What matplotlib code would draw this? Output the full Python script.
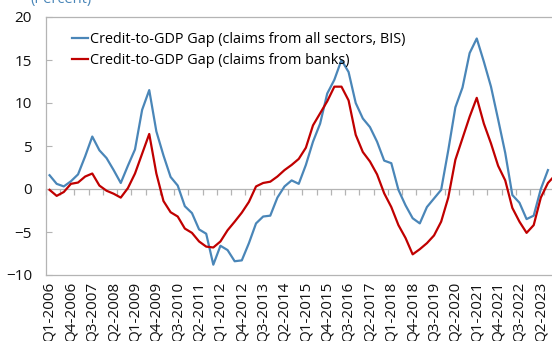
import numpy as np
import matplotlib
matplotlib.use("Agg")
import matplotlib.pyplot as plt

plt.rcParams['font.family'] = ['Open Sans', 'DejaVu Sans']

# Quarterly categories Q1-2006 ... Q4-2023
quarters = [f"Q{q}-{y}" for y in range(2006, 2024) for q in (1, 2, 3, 4)]

gap_all_sectors = [1.6, 0.6, 0.3, 0.9, 1.7, 3.8, 6.1, 4.5, 3.6, 2.2,
                   0.7, 2.7, 4.6, 9.2, 11.5, 6.7, 3.9, 1.4, 0.4, -2.0,
                   -2.8, -4.7, -5.2, -8.8, -6.6, -7.1, -8.4, -8.3, -6.3, -4.0,
                   -3.2, -3.1, -1.0, 0.3, 1.0, 0.6, 2.8, 5.5, 7.6, 11.1,
                   12.7, 15.0, 13.6, 10.0, 8.2, 7.2, 5.5, 3.3, 3.0, -0.1,
                   -1.9, -3.4, -4.0, -2.1, -1.1, -0.1, 4.5, 9.5, 11.8, 15.8,
                   17.5, 14.8, 11.9, 8.1, 4.2, -0.7, -1.6, -3.5, -3.1, 0.0,
                   2.2, np.nan]

gap_banks = [-0.1, -0.8, -0.35, 0.6, 0.75, 1.45, 1.8, 0.4, -0.2, -0.55,
             -1.0, 0.1, 1.8, 4.1, 6.4, 1.8, -1.4, -2.7, -3.2, -4.6,
             -5.1, -6.1, -6.7, -6.8, -6.1, -4.8, -3.8, -2.75, -1.5, 0.3,
             0.7, 0.85, 1.45, 2.2, 2.8, 3.5, 4.8, 7.4, 8.8, 10.2,
             11.9, 11.9, 10.3, 6.3, 4.3, 3.2, 1.7, -0.5, -2.1, -4.2,
             -5.7, -7.6, -7.0, -6.3, -5.4, -3.8, -1.0, 3.4, 5.9, 8.4,
             10.6, 7.6, 5.3, 2.7, 1.0, -2.2, -3.8, -5.1, -4.2, -1.0,
             0.7, 1.6]

series_labels = ["Credit-to-GDP Gap (claims from all sectors, BIS)",
                 "Credit-to-GDP Gap (claims from banks)"]
y_ticks = [-10, -5, 0, 5, 10, 15, 20]
label_step = 3

BLUE = '#4a86b8'
RED = '#c00000'
GRAY = '#b4b4b4'

W, H = 552, 341
fig = plt.figure(figsize=(W / 100, H / 100), dpi=100)
ax = fig.add_axes([46 / W, (H - 275) / H, (W - 46) / W, (275 - 17) / H])

x = np.arange(len(quarters))
ax.plot(x, gap_all_sectors, color=BLUE, lw=1.6, label=series_labels[0])
ax.plot(x, gap_banks, color=RED, lw=1.6, label=series_labels[1])

ax.set_xlim(-0.5, 70.57)
ax.set_ylim(-10, 20)

for s in ['top', 'left', 'bottom']:
    ax.spines[s].set_color(GRAY)
    ax.spines[s].set_linewidth(0.9)
ax.spines['right'].set_visible(False)

ax.set_yticks(y_ticks)
ax.tick_params(axis='y', direction='in', length=4, color=GRAY, pad=10,
               labelsize=11, labelcolor='#111111')

tick_idx = list(range(0, 70, label_step))
ax.set_xticks(tick_idx)
ax.set_xticklabels([quarters[i] for i in tick_idx], rotation=90,
                   fontsize=11, color='#111111')
ax.tick_params(axis='x', length=0, pad=5)

# axis line at zero with tick marks between categories
sec = ax.secondary_xaxis(1 / 3)
sec.set_xticks(np.arange(-0.5, 71, 2))
sec.tick_params(direction='out', length=4, color=GRAY, labelbottom=False,
                labeltop=False, width=0.9)
for s in sec.spines.values():
    s.set_color(GRAY)
    s.set_linewidth(0.9)

ax.legend(loc='upper left', bbox_to_anchor=(0.051, 0.942), frameon=False,
          fontsize=10.4, handlelength=1.1, handletextpad=0.14,
          borderaxespad=0, borderpad=0, labelspacing=0.45)

fig.text(30 / W, 1 - 3 / H, '(Percent)', color=BLUE, fontsize=10.5,
         va='baseline', ha='left')

fig.savefig('out.png', dpi=100)
